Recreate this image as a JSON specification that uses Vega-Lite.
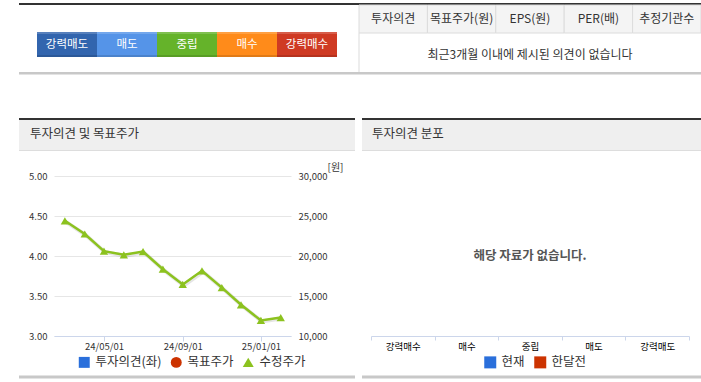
{
  "$schema": "https://vega.github.io/schema/vega-lite/v6.json",
  "background": "white",
  "width": 701,
  "height": 382,
  "autosize": "none",
  "padding": 0,
  "config": {
    "view": {"stroke": null},
    "font": "Noto Sans CJK KR",
    "axis": {"labelFont": "Noto Sans CJK KR", "titleFont": "Noto Sans CJK KR"},
    "legend": {"labelFont": "Noto Sans CJK KR"}
  },
  "layer": [
    {"data": {"values": [{}]}, "mark": {"type": "rect", "color": "#333333"},
     "encoding": {
       "x": {"datum": 0, "type": "quantitative", "scale": {"domain": [0, 1], "range": [19, 701]}, "axis": null}, "x2": {"datum": 1},
       "y": {"datum": 0, "type": "quantitative", "scale": {"domain": [0, 1], "range": [3, 5]}, "axis": null}, "y2": {"datum": 1}}},
    {"data": {"values": [{}]}, "mark": {"type": "rect", "color": "#c8c8c8"},
     "encoding": {
       "x": {"datum": 0, "type": "quantitative", "scale": {"domain": [0, 1], "range": [19, 701]}, "axis": null}, "x2": {"datum": 1},
       "y": {"datum": 0, "type": "quantitative", "scale": {"domain": [0, 1], "range": [72, 74.5]}, "axis": null}, "y2": {"datum": 1}}},
    {
      "data": {"values": [{"rating": "강력매도"}, {"rating": "매도"}, {"rating": "중립"}, {"rating": "매수"}, {"rating": "강력매수"}]},
      "layer": [
        {"mark": {"type": "bar"},
         "encoding": {
           "x": {"field": "rating", "type": "nominal", "sort": null, "scale": {"domain": ["강력매도", "매도", "중립", "매수", "강력매수"], "range": [37, 337], "paddingInner": 0, "paddingOuter": 0}, "axis": null},
           "y": {"datum": 0, "type": "quantitative", "scale": {"domain": [0, 1], "range": [32, 57]}, "axis": null}, "y2": {"datum": 1},
           "color": {"field": "rating", "type": "nominal", "scale": {"domain": ["강력매도", "매도", "중립", "매수", "강력매수"], "range": ["#3265ae", "#5594e8", "#65b32a", "#ff8b1a", "#cf3a23"]}, "legend": null}}},
        {"mark": {"type": "bar", "color": "#ffffff", "opacity": 0.18},
         "encoding": {
           "x": {"field": "rating", "type": "nominal", "sort": null, "axis": null},
           "y": {"datum": 0, "type": "quantitative", "axis": null}, "y2": {"datum": 0.08}}},
        {"mark": {"type": "bar", "color": "#000000", "opacity": 0.12},
         "encoding": {
           "x": {"field": "rating", "type": "nominal", "sort": null, "axis": null},
           "y": {"datum": 0.92, "type": "quantitative", "axis": null}, "y2": {"datum": 1}}},
        {"mark": {"type": "text", "color": "#ffffff", "fontSize": 11.5, "baseline": "middle"},
         "encoding": {
           "x": {"field": "rating", "type": "nominal", "sort": null, "axis": null},
           "y": {"datum": 0.5, "type": "quantitative", "axis": null},
           "text": {"field": "rating"}}}
      ]
    },
    {
      "data": {"values": [{"col": "투자의견"}, {"col": "목표주가(원)"}, {"col": "EPS(원)"}, {"col": "PER(배)"}, {"col": "추정기관수"}]},
      "layer": [
        {"mark": {"type": "bar", "fill": "#f4f4f4", "stroke": "#dcdcdc", "strokeWidth": 1},
         "encoding": {
           "x": {"field": "col", "type": "nominal", "sort": null, "scale": {"range": [359, 701], "paddingInner": 0, "paddingOuter": 0}, "axis": null},
           "y": {"datum": 0, "type": "quantitative", "scale": {"domain": [0, 1], "range": [5, 33]}, "axis": null}, "y2": {"datum": 1}}},
        {"mark": {"type": "text", "color": "#333333", "fontSize": 12, "baseline": "middle"},
         "encoding": {
           "x": {"field": "col", "type": "nominal", "sort": null, "axis": null},
           "y": {"datum": 0.5, "type": "quantitative", "axis": null},
           "text": {"field": "col"}}}
      ]
    },
    {"data": {"values": [{}]}, "mark": {"type": "rect", "color": "#dcdcdc"},
     "encoding": {
       "x": {"datum": 0, "type": "quantitative", "scale": {"domain": [0, 1], "range": [358.5, 359.5]}, "axis": null}, "x2": {"datum": 1},
       "y": {"datum": 0, "type": "quantitative", "scale": {"domain": [0, 1], "range": [33, 72]}, "axis": null}, "y2": {"datum": 1}}},
    {"data": {"values": [{"msg": "최근3개월 이내에 제시된 의견이 없습니다"}]},
     "mark": {"type": "text", "color": "#333333", "fontSize": 12, "baseline": "middle"},
     "encoding": {
       "x": {"datum": 0.5, "type": "quantitative", "scale": {"domain": [0, 1], "range": [359, 701]}, "axis": null},
       "y": {"datum": 0.5, "type": "quantitative", "scale": {"domain": [0, 1], "range": [36, 74]}, "axis": null},
       "text": {"field": "msg"}}},
    {
      "data": {"values": [{"title": "투자의견 및 목표주가"}]},
      "layer": [
        {"mark": {"type": "rect", "color": "#efefef"},
         "encoding": {
           "x": {"datum": 0, "type": "quantitative", "scale": {"domain": [0, 1], "range": [19, 355]}, "axis": null}, "x2": {"datum": 1},
           "y": {"datum": 0, "type": "quantitative", "scale": {"domain": [0, 1], "range": [118, 150]}, "axis": null}, "y2": {"datum": 1}}},
        {"mark": {"type": "rect", "color": "#333333"},
         "encoding": {"x": {"datum": 0, "type": "quantitative", "axis": null}, "x2": {"datum": 1}, "y": {"datum": 0, "type": "quantitative", "axis": null}, "y2": {"datum": 0.0625}}},
        {"mark": {"type": "rect", "color": "#dddddd"},
         "encoding": {"x": {"datum": 0, "type": "quantitative", "axis": null}, "x2": {"datum": 1}, "y": {"datum": 1, "type": "quantitative", "axis": null}, "y2": {"datum": 1.03125}}},
        {"mark": {"type": "text", "color": "#333333", "fontSize": 12.5, "align": "left", "baseline": "middle", "dx": 11},
         "encoding": {"x": {"datum": 0, "type": "quantitative", "axis": null}, "y": {"datum": 0.5, "type": "quantitative", "axis": null}, "text": {"field": "title"}}}
      ]
    },
    {
      "data": {"values": [{"title": "투자의견 분포"}]},
      "layer": [
        {"mark": {"type": "rect", "color": "#efefef"},
         "encoding": {
           "x": {"datum": 0, "type": "quantitative", "scale": {"domain": [0, 1], "range": [362, 701]}, "axis": null}, "x2": {"datum": 1},
           "y": {"datum": 0, "type": "quantitative", "scale": {"domain": [0, 1], "range": [118, 150]}, "axis": null}, "y2": {"datum": 1}}},
        {"mark": {"type": "rect", "color": "#333333"},
         "encoding": {"x": {"datum": 0, "type": "quantitative", "axis": null}, "x2": {"datum": 1}, "y": {"datum": 0, "type": "quantitative", "axis": null}, "y2": {"datum": 0.0625}}},
        {"mark": {"type": "rect", "color": "#dddddd"},
         "encoding": {"x": {"datum": 0, "type": "quantitative", "axis": null}, "x2": {"datum": 1}, "y": {"datum": 1, "type": "quantitative", "axis": null}, "y2": {"datum": 1.03125}}},
        {"mark": {"type": "text", "color": "#333333", "fontSize": 12.5, "align": "left", "baseline": "middle", "dx": 10},
         "encoding": {"x": {"datum": 0, "type": "quantitative", "axis": null}, "y": {"datum": 0.5, "type": "quantitative", "axis": null}, "text": {"field": "title"}}}
      ]
    },
    {"data": {"values": [{}]}, "mark": {"type": "rect", "color": "#c8c8c8"},
     "encoding": {
       "x": {"datum": 0, "type": "quantitative", "scale": {"domain": [0, 1], "range": [19, 355]}, "axis": null}, "x2": {"datum": 1},
       "y": {"datum": 0, "type": "quantitative", "scale": {"domain": [0, 1], "range": [375.5, 378.5]}, "axis": null}, "y2": {"datum": 1}}},
    {"data": {"values": [{}]}, "mark": {"type": "rect", "color": "#c8c8c8"},
     "encoding": {
       "x": {"datum": 0, "type": "quantitative", "scale": {"domain": [0, 1], "range": [362, 701]}, "axis": null}, "x2": {"datum": 1},
       "y": {"datum": 0, "type": "quantitative", "scale": {"domain": [0, 1], "range": [375.5, 378.5]}, "axis": null}, "y2": {"datum": 1}}},
    {
      "data": {"values": [
        {"date": "2024-03-01T00:00:00", "series": "수정주가", "price": 24400},
        {"date": "2024-04-01T00:00:00", "series": "수정주가", "price": 22750},
        {"date": "2024-05-01T00:00:00", "series": "수정주가", "price": 20600},
        {"date": "2024-06-01T00:00:00", "series": "수정주가", "price": 20150},
        {"date": "2024-07-01T00:00:00", "series": "수정주가", "price": 20550},
        {"date": "2024-08-01T00:00:00", "series": "수정주가", "price": 18350},
        {"date": "2024-09-01T00:00:00", "series": "수정주가", "price": 16450},
        {"date": "2024-10-01T00:00:00", "series": "수정주가", "price": 18150},
        {"date": "2024-11-01T00:00:00", "series": "수정주가", "price": 16050},
        {"date": "2024-12-01T00:00:00", "series": "수정주가", "price": 13900},
        {"date": "2025-01-01T00:00:00", "series": "수정주가", "price": 11950},
        {"date": "2025-02-01T00:00:00", "series": "수정주가", "price": 12300}
      ]},
      "layer": [
        {"mark": {"type": "rule"},
         "encoding": {
           "x": {"field": "date", "type": "temporal",
             "scale": {"domain": [{"year": 2024, "month": 2, "date": 13}, {"year": 2025, "month": 2, "date": 17}], "range": [54, 291]},
             "axis": {"orient": "bottom", "offset": -46, "values": [{"year": 2024, "month": 5, "date": 1}, {"year": 2024, "month": 9, "date": 1}, {"year": 2025, "month": 1, "date": 1}], "format": "%y/%m/%d", "title": null, "grid": false, "domainColor": "#ccd6eb", "tickColor": "#ccd6eb", "tickSize": 5, "labelPadding": 0, "labelFontSize": 9.5, "labelColor": "#333333"}},
           "y": {"field": "opinion", "type": "quantitative", "scale": {"domain": [3, 5], "range": [336, 176], "nice": false, "zero": false},
             "axis": {"orient": "left", "offset": -54, "values": [3, 3.5, 4, 4.5, 5], "format": ".2f", "grid": true, "gridColor": "#e6e6e6", "gridWidth": 1, "domain": false, "ticks": false, "labelPadding": 7, "labelFontSize": 9.5, "labelColor": "#333333", "title": null}}}},
        {"layer": [
          {"mark": {"type": "line", "strokeWidth": 4, "color": "#000000", "opacity": 0.1, "xOffset": 1, "yOffset": 1},
           "encoding": {
             "x": {"field": "date", "type": "temporal"},
             "y": {"field": "price", "type": "quantitative", "scale": {"domain": [10000, 30000], "range": [336, 176], "nice": false, "zero": false},
               "axis": {"orient": "right", "offset": -410, "values": [10000, 15000, 20000, 25000, 30000], "format": ",.0f", "grid": false, "domain": false, "ticks": false, "labelPadding": 7, "labelFontSize": 9.5, "labelColor": "#333333", "title": "[원]", "titleAngle": 0, "titleX": 44, "titleY": 167, "titleFontSize": 10, "titleFontWeight": "normal", "titleColor": "#333333", "titleAlign": "center", "titleBaseline": "middle"}}}},
          {"mark": {"type": "line", "strokeWidth": 2.5},
           "encoding": {
             "x": {"field": "date", "type": "temporal"},
             "y": {"field": "price", "type": "quantitative"},
             "color": {"field": "series", "type": "nominal",
               "scale": {"domain": ["투자의견(좌)", "목표주가", "수정주가"], "range": ["#2a6fdb", "#cc3300", "#8cc21f"]},
               "legend": {"title": null, "orient": "none", "legendX": 78, "legendY": 356, "direction": "horizontal", "labelFontSize": 12.5, "labelColor": "#333333", "symbolSize": 120, "labelOffset": 5, "columnPadding": 8, "symbolStrokeWidth": 0}}}},
          {"mark": {"type": "point", "filled": true, "size": 70, "opacity": 1},
           "encoding": {
             "x": {"field": "date", "type": "temporal"},
             "y": {"field": "price", "type": "quantitative"},
             "color": {"field": "series", "type": "nominal"},
             "shape": {"field": "series", "type": "nominal",
               "scale": {"domain": ["투자의견(좌)", "목표주가", "수정주가"], "range": ["square", "circle", "triangle-up"]},
               "legend": {"title": null, "orient": "none", "legendX": 78, "legendY": 356, "direction": "horizontal", "labelFontSize": 12.5, "labelColor": "#333333", "symbolSize": 120, "labelOffset": 5, "columnPadding": 8, "symbolStrokeWidth": 0}}}}
        ]}
      ],
      "resolve": {"scale": {"y": "independent"}}
    },
    {
      "data": {"values": [{"opinion": "강력매수"}, {"opinion": "매수"}, {"opinion": "중립"}, {"opinion": "매도"}, {"opinion": "강력매도"}]},
      "mark": {"type": "bar"},
      "encoding": {
        "x": {"field": "opinion", "type": "nominal", "sort": null,
          "scale": {"domain": ["강력매수", "매수", "중립", "매도", "강력매도"], "range": [371, 689], "paddingInner": 0, "paddingOuter": 0},
          "axis": {"title": null, "orient": "bottom", "offset": -46, "domainColor": "#ccd6eb", "tickColor": "#ccd6eb", "tickBand": "extent", "tickSize": 4, "labelFontSize": 9.5, "labelColor": "#000000", "labelPadding": 1, "labelAngle": 0, "grid": false}},
        "y": {"field": "count", "type": "quantitative", "axis": null, "scale": {"domain": [0, 1], "range": [336, 176]}},
        "color": {"field": "period", "type": "nominal",
          "scale": {"domain": ["현재", "한달전"], "range": ["#2a6fdb", "#cc3300"]},
          "legend": {"title": null, "orient": "none", "legendX": 484, "legendY": 356, "direction": "horizontal", "labelFontSize": 12.5, "labelColor": "#333333", "symbolType": "square", "symbolSize": 144, "labelOffset": 5, "columnPadding": 9, "symbolStrokeWidth": 0}}
      }
    },
    {"data": {"values": [{"msg": "해당 자료가 없습니다."}]},
     "mark": {"type": "text", "fontWeight": "bold", "fontSize": 12.5, "color": "#555555", "baseline": "middle"},
     "encoding": {
       "x": {"datum": 0.5, "type": "quantitative", "scale": {"domain": [0, 1], "range": [371, 689]}, "axis": null},
       "y": {"datum": 0.5, "type": "quantitative", "scale": {"domain": [0, 1], "range": [176, 336]}, "axis": null},
       "text": {"field": "msg"}}}
  ],
  "resolve": {
    "scale": {"x": "independent", "y": "independent", "color": "independent", "shape": "independent"},
    "axis": {"x": "independent", "y": "independent"},
    "legend": {"color": "independent", "shape": "independent"}
  }
}
